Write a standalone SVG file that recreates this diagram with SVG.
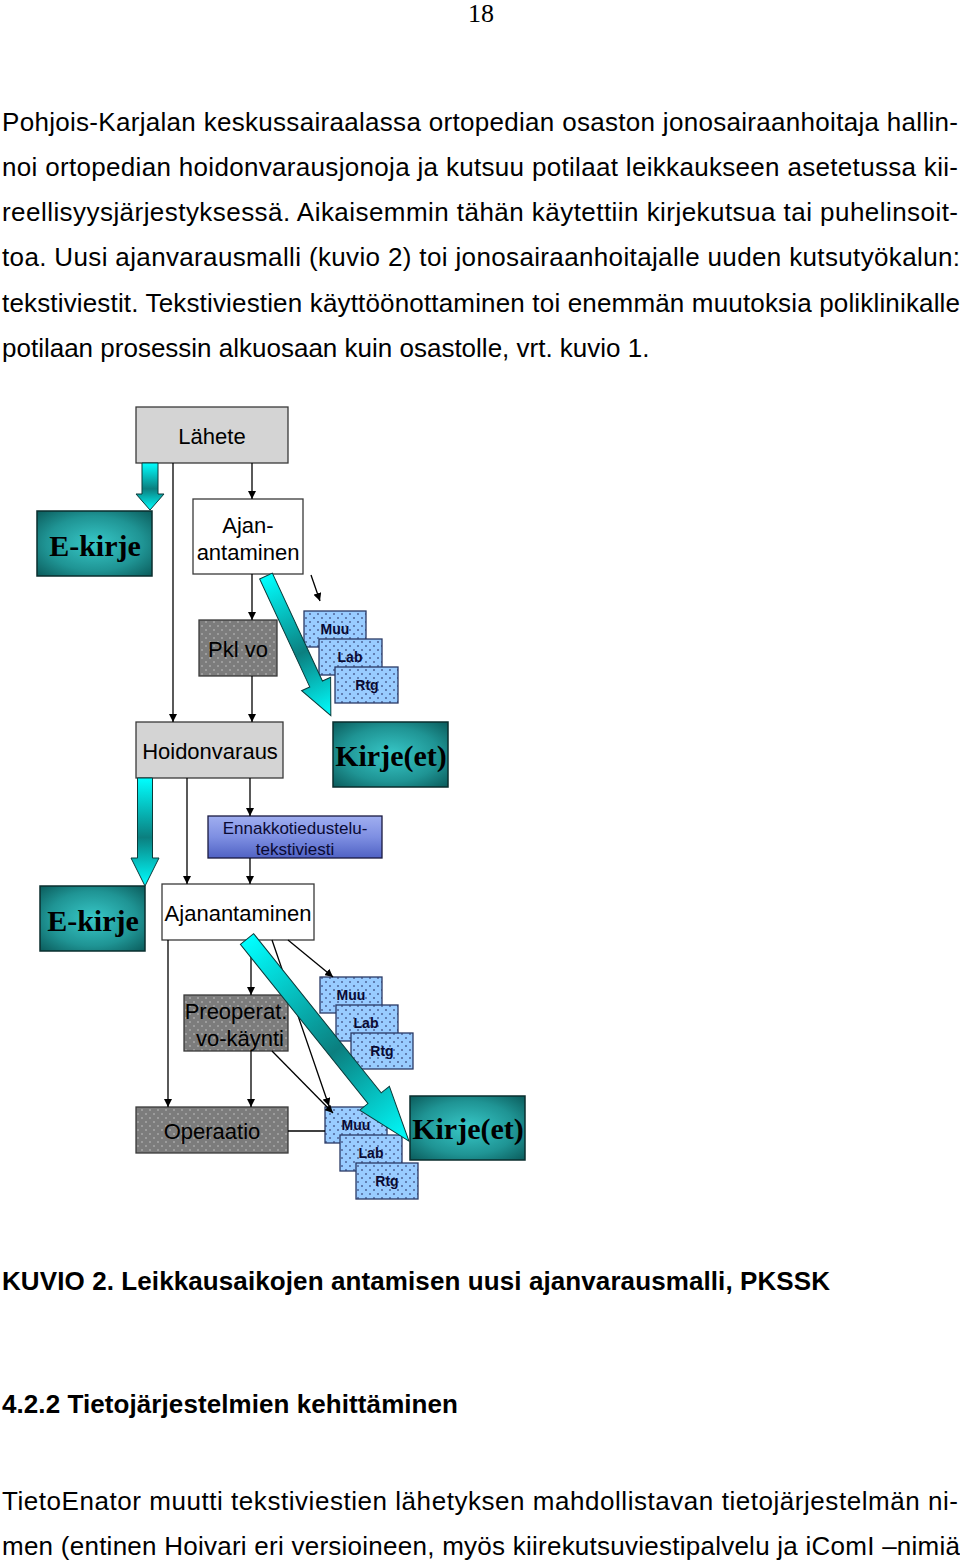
<svg xmlns="http://www.w3.org/2000/svg" width="960" height="1564" viewBox="0 0 960 1564">
<defs>
<style>
.body{font-family:"Liberation Sans",Arial,sans-serif;font-size:26px;fill:#000}
.bold{font-family:"Liberation Sans",Arial,sans-serif;font-size:26px;font-weight:bold;fill:#000}
.lbl{font-family:"Liberation Sans",Arial,sans-serif;font-size:22px;fill:#000;text-anchor:middle}
.big{font-family:"Liberation Serif","Times New Roman",serif;font-size:30px;font-weight:bold;fill:#000;text-anchor:middle}
.sm{font-family:"Liberation Sans",Arial,sans-serif;font-size:14px;font-weight:bold;fill:#0a0a33;text-anchor:middle}
.en{font-family:"Liberation Sans",Arial,sans-serif;font-size:17px;fill:#0a0a33;text-anchor:middle}
.box{stroke:#3a3a3a;stroke-width:1.3}
.gray{fill:#d4d4d4}
.white{fill:#fff}
.dark{fill:url(#dotsGray)}
.blue{fill:url(#dotsBlue);stroke:#2a3a66;stroke-width:1.3}
.teal{fill:url(#teal);stroke:#0a2e2e;stroke-width:1.5}
.ln{stroke:#000;stroke-width:1.3;fill:none}
.arr{marker-end:url(#ah)}
.fat{fill:url(#cyan);stroke:#0a3a3a;stroke-width:1}
</style>
<marker id="ah" viewBox="0 0 10 10" refX="10" refY="5" markerWidth="8" markerHeight="8" markerUnits="userSpaceOnUse" orient="auto">
<path d="M0 0 L10 5 L0 10 Z" fill="#000"/>
</marker>
<pattern id="dotsGray" width="8" height="8" patternUnits="userSpaceOnUse">
<rect width="8" height="8" fill="#7c7c7c"/>
<circle cx="2" cy="2" r="0.8" fill="#c4c4c4"/>
<circle cx="6" cy="6" r="0.8" fill="#c4c4c4"/>
</pattern>
<pattern id="dotsBlue" width="8" height="8" patternUnits="userSpaceOnUse">
<rect width="8" height="8" fill="#99ccff"/>
<circle cx="2" cy="2" r="0.8" fill="#1a1a4d"/>
<circle cx="6" cy="6" r="0.8" fill="#1a1a4d"/>
</pattern>
<radialGradient id="teal" cx="50%" cy="50%" r="70%">
<stop offset="0" stop-color="#38c8c8"/>
<stop offset="0.6" stop-color="#1f9494"/>
<stop offset="1" stop-color="#0b5c5c"/>
</radialGradient>
<linearGradient id="cyan" x1="0" y1="0" x2="0" y2="1">
<stop offset="0" stop-color="#00ffff"/>
<stop offset="0.55" stop-color="#0b7f7f"/>
<stop offset="1" stop-color="#00ffff"/>
</linearGradient>
<linearGradient id="enn" x1="0" y1="0" x2="0" y2="1">
<stop offset="0" stop-color="#a0aef0"/>
<stop offset="0.5" stop-color="#7e8fe2"/>
<stop offset="1" stop-color="#5062c4"/>
</linearGradient>
</defs>
<rect width="960" height="1564" fill="#fff"/>

<text x="481" y="22" text-anchor="middle" style="font-family:'Liberation Serif','Times New Roman',serif;font-size:26px">18</text>

<g id="text-top">
<text class="body" x="2" y="131" textLength="956" lengthAdjust="spacing">Pohjois-Karjalan keskussairaalassa ortopedian osaston jonosairaanhoitaja hallin-</text>
<text class="body" x="2" y="176" textLength="956" lengthAdjust="spacing">noi ortopedian hoidonvarausjonoja ja kutsuu potilaat leikkaukseen asetetussa kii-</text>
<text class="body" x="2" y="221" textLength="956" lengthAdjust="spacing">reellisyysjärjestyksessä. Aikaisemmin tähän käytettiin kirjekutsua tai puhelinsoit-</text>
<text class="body" x="2" y="266" textLength="958" lengthAdjust="spacing">toa. Uusi ajanvarausmalli (kuvio 2) toi jonosairaanhoitajalle uuden kutsutyökalun:</text>
<text class="body" x="2" y="312" textLength="958" lengthAdjust="spacing">tekstiviestit. Tekstiviestien käyttöönottaminen toi enemmän muutoksia poliklinikalle</text>
<text class="body" x="2" y="357">potilaan prosessin alkuosaan kuin osastolle, vrt. kuvio 1.</text>
</g>

<g id="n-lahete"><rect class="box gray" x="136" y="407" width="152" height="56"/><text class="lbl" x="212" y="444">Lähete</text></g>
<g id="n-ekirje1"><rect class="teal" x="37" y="511" width="115" height="65"/><text class="big" x="95" y="556">E-kirje</text></g>
<g id="n-ajan1"><rect class="box white" x="193" y="499" width="110" height="75"/><text class="lbl" x="248" y="533">Ajan-</text><text class="lbl" x="248" y="560">antaminen</text></g>
<g id="n-pklvo"><rect class="box dark" x="199" y="620" width="78" height="56"/><text class="lbl" x="238" y="657">Pkl vo</text></g>
<g id="n-stack1">
<rect class="blue" x="304" y="611" width="62" height="36"/><text class="sm" x="335" y="634">Muu</text>
<rect class="blue" x="319" y="639" width="63" height="36"/><text class="sm" x="350" y="662">Lab</text>
<rect class="blue" x="335" y="667" width="63" height="36"/><text class="sm" x="367" y="690">Rtg</text>
</g>
<g id="n-hoidonvaraus"><rect class="box gray" x="136" y="722" width="147" height="56"/><text class="lbl" x="210" y="759">Hoidonvaraus</text></g>
<g id="n-kirjeet1"><rect class="teal" x="333" y="722" width="115" height="65"/><text class="big" x="391" y="766">Kirje(et)</text></g>
<g id="n-ennakko"><rect x="208" y="816" width="174" height="42" fill="url(#enn)" stroke="#1a1a40" stroke-width="1.3"/><text class="en" x="295" y="834">Ennakkotiedustelu-</text><text class="en" x="295" y="855">tekstiviesti</text></g>
<g id="n-ekirje2"><rect class="teal" x="40" y="886" width="105" height="65"/><text class="big" x="93" y="931">E-kirje</text></g>
<g id="n-ajan2"><rect class="box white" x="162" y="884" width="152" height="56"/><text class="lbl" x="238" y="921">Ajanantaminen</text></g>
<g id="n-preop"><rect class="box dark" x="184" y="995" width="104" height="56"/><text class="lbl" x="236" y="1019">Preoperat.</text><text class="lbl" x="240" y="1046">vo-käynti</text></g>
<g id="n-stack2">
<rect class="blue" x="320" y="977" width="62" height="36"/><text class="sm" x="351" y="1000">Muu</text>
<rect class="blue" x="336" y="1005" width="62" height="36"/><text class="sm" x="366" y="1028">Lab</text>
<rect class="blue" x="351" y="1033" width="62" height="36"/><text class="sm" x="382" y="1056">Rtg</text>
</g>
<g id="n-operaatio"><rect class="box dark" x="136" y="1107" width="152" height="46"/><text class="lbl" x="212" y="1139">Operaatio</text></g>
<g id="n-stack3">
<rect class="blue" x="325" y="1107" width="62" height="36"/><text class="sm" x="356" y="1130">Muu</text>
<rect class="blue" x="340" y="1135" width="62" height="36"/><text class="sm" x="371" y="1158">Lab</text>
<rect class="blue" x="356" y="1163" width="62" height="36"/><text class="sm" x="387" y="1186">Rtg</text>
</g>
<g id="n-kirjeet2"><rect class="teal" x="410" y="1096" width="115" height="64"/><text class="big" x="468" y="1139">Kirje(et)</text></g>

<g id="connectors">
<line class="ln arr" x1="173" y1="463" x2="173" y2="722"/>
<line class="ln arr" x1="252" y1="463" x2="252" y2="499"/>
<line class="ln arr" x1="252" y1="574" x2="252" y2="620"/>
<line class="ln arr" x1="311" y1="575" x2="320" y2="601"/>
<line class="ln arr" x1="252" y1="676" x2="252" y2="722"/>
<line class="ln arr" x1="187" y1="778" x2="187" y2="884"/>
<line class="ln arr" x1="250" y1="778" x2="250" y2="816"/>
<line class="ln arr" x1="250" y1="858" x2="250" y2="884"/>
<line class="ln arr" x1="168" y1="940" x2="168" y2="1107"/>
<line class="ln arr" x1="251" y1="940" x2="251" y2="995"/>
<line class="ln arr" x1="272" y1="940" x2="329" y2="1106"/>
<line class="ln arr" x1="288" y1="940" x2="333" y2="977"/>
<line class="ln arr" x1="251" y1="1051" x2="251" y2="1107"/>
<line class="ln arr" x1="272" y1="1051" x2="333" y2="1113"/>
<line class="ln" x1="288" y1="1131" x2="325" y2="1131"/>
<path class="fat" transform="translate(150,463)" d="M-8 0 H8 V31 H14 L0 47 L-14 31 H-8 Z"/>
<path class="fat" transform="translate(145,778)" d="M-7.5 0 H7.5 V80 H14 L0 108 L-14 80 H-7.5 Z"/>
<path class="fat" transform="translate(266,576) rotate(-24.9)" d="M-7 0 H7 V119 H16 L0 154 L-16 119 H-7 Z"/>
<path class="fat" transform="translate(247,939) rotate(-38.7)" d="M-8.5 0 H8.5 V204 H19 L0 259 L-19 204 H-8.5 Z"/>
</g>

<g id="text-bottom">
<text class="bold" x="2" y="1290" textLength="828" lengthAdjust="spacing">KUVIO 2. Leikkausaikojen antamisen uusi ajanvarausmalli, PKSSK</text>
<text class="bold" x="2" y="1413" textLength="456" lengthAdjust="spacing">4.2.2 Tietojärjestelmien kehittäminen</text>
<text class="body" x="2" y="1510" textLength="956" lengthAdjust="spacing">TietoEnator muutti tekstiviestien lähetyksen mahdollistavan tietojärjestelmän ni-</text>
<text class="body" x="2" y="1555" textLength="958" lengthAdjust="spacing">men (entinen Hoivari eri versioineen, myös kiirekutsuviestipalvelu ja iComI –nimiä</text>
</g>
</svg>
